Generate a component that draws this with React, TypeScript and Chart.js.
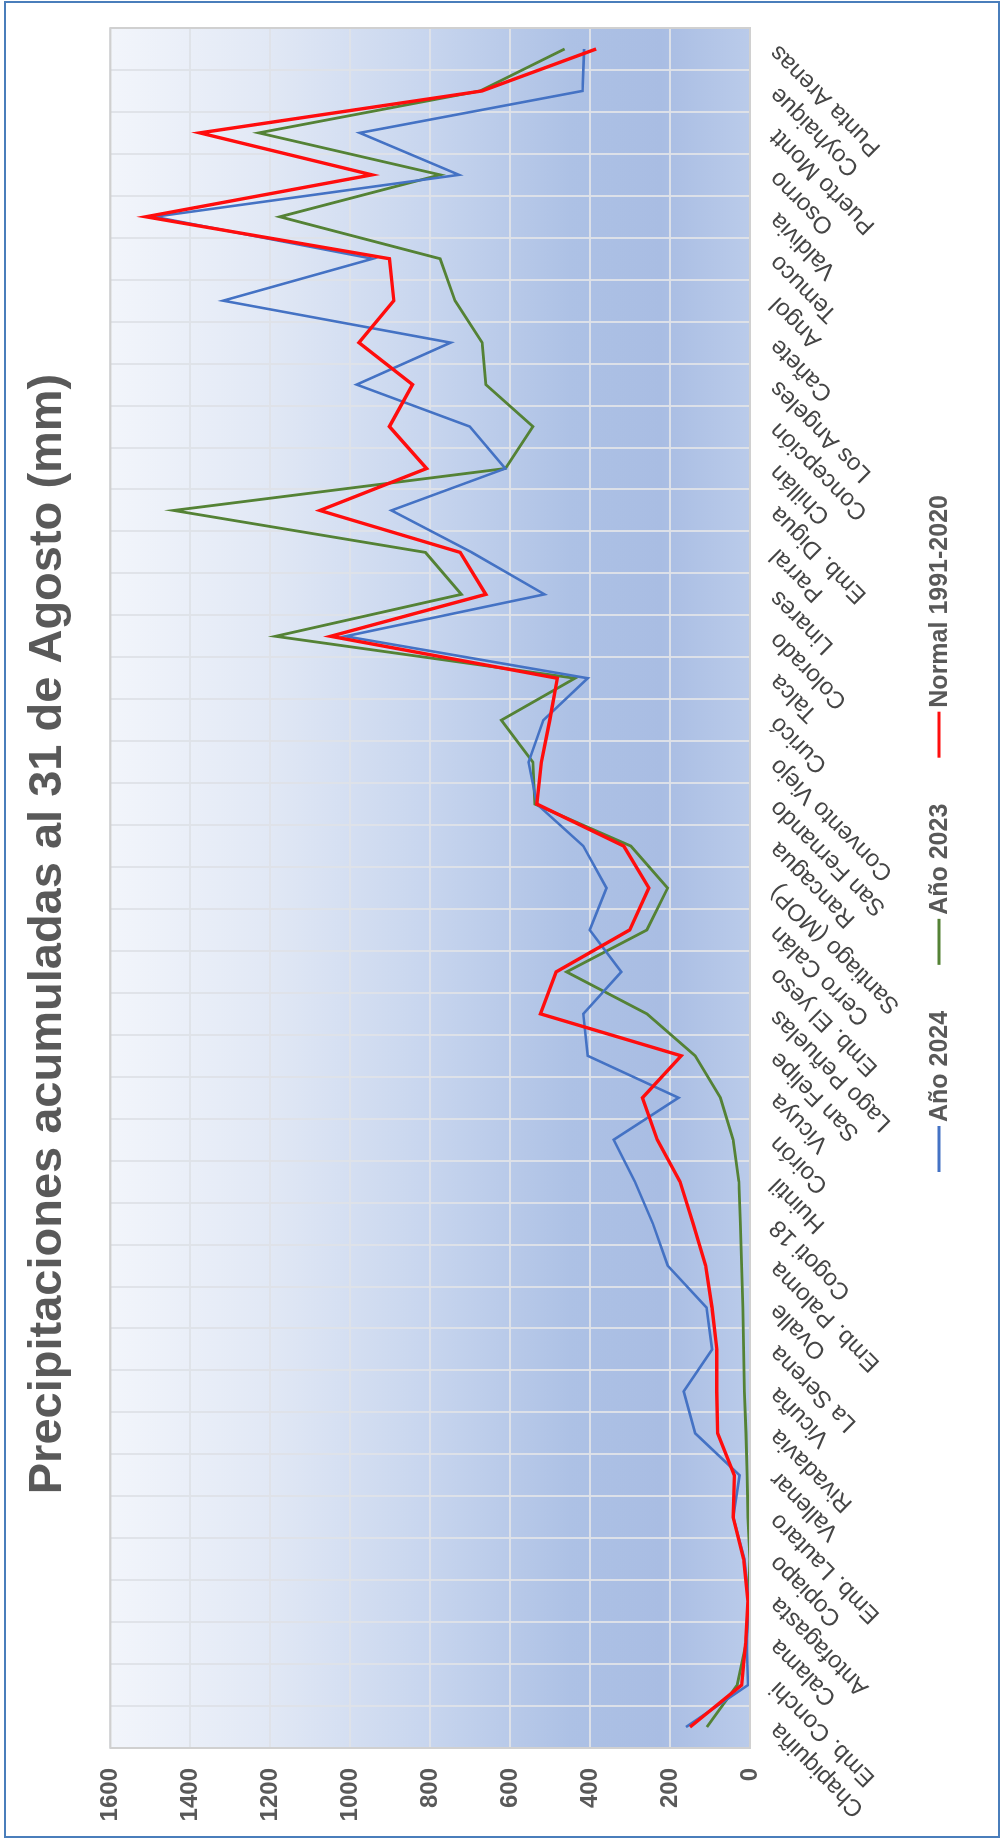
import React, { useEffect, useRef } from 'react';
import { Chart, registerables } from 'chart.js';

Chart.register(...registerables);

const categories = [
  'Chapiquiña', 'Emb. Conchi', 'Calama', 'Antofagasta', 'Copiapo', 'Emb. Lautaro', 'Vallenar',
  'Rivadavia', 'Vicuña', 'La Serena', 'Ovalle', 'Emb. Paloma', 'Cogoti 18', 'Huintil', 'Coirón',
  'Vicuya', 'San Felipe', 'Lago Peñuelas', 'Emb. El yeso', 'Cerro Calán', 'Santiago (MOP)',
  'Rancagua', 'San Fernando', 'Convento Viejo', 'Curicó', 'Talca', 'Colorado', 'Linares', 'Parral',
  'Emb. Digua', 'Chillán', 'Concepción', 'Los Angeles', 'Cañete', 'Angol', 'Temuco', 'Valdivia',
  'Osorno', 'Puerto Montt', 'Coyhaique', 'Punta Arenas',
];

const year2024 = [
  160, 5, 8, 3, 14, 42, 26, 137, 166, 95, 109, 206, 243, 288, 341, 179, 406, 417, 322, 401, 359,
  417, 533, 554, 517, 406, 1012, 514, 696, 897, 612, 701, 984, 749, 1318, 944, 1490, 728, 976, 419, 415,
];

const year2023 = [
  108, 32, 10, 4, 0, 5, 7, 10, 14, 16, 18, 21, 24, 28, 42, 74, 137, 258, 459, 258, 206,
  298, 538, 543, 622, 438, 1187, 722, 812, 1442, 612, 543, 661, 670, 738, 775, 1176, 775, 1229, 675, 464,
];

const normal = [
  150, 21, 11, 5, 16, 42, 39, 81, 83, 83, 95, 111, 142, 175, 232, 269, 172, 524, 485, 301, 253,
  316, 533, 522, 501, 482, 1049, 661, 725, 1076, 809, 902, 844, 978, 891, 902, 1511, 946, 1376, 670, 385,
];

const seriesNames = ['Año 2024', 'Año 2023', 'Normal 1991-2020'];
const seriesColors = ['#4472c4', '#548235', '#ff0d0d'];
const yMin = 0;
const yMax = 1600;
const yStep = 200;
const titleText = 'Precipitaciones acumuladas al 31 de Agosto (mm)';

const W = 1840;
const H = 1003;
const FONT = "'Liberation Sans', Arial, Helvetica, sans-serif";

export default function App() {
  const ref = useRef<HTMLCanvasElement | null>(null);

  useEffect(() => {
    if (!ref.current) return;

    const plotPlugin = {
      id: 'plotDecor',
      beforeDraw(chart: any) {
        const { ctx, chartArea: a } = chart;
        const g = ctx.createLinearGradient(0, a.top, 0, a.bottom);
        g.addColorStop(0, '#f2f5fb');
        g.addColorStop(0.25, '#e1e8f5');
        g.addColorStop(0.5, '#c7d5ee');
        g.addColorStop(0.72, '#adc1e5');
        g.addColorStop(0.86, '#a9bde3');
        g.addColorStop(1, '#bacbea');
        ctx.save();
        ctx.fillStyle = g;
        ctx.fillRect(a.left, a.top, a.right - a.left, a.bottom - a.top);
        ctx.restore();
      },
      afterDraw(chart: any) {
        const { ctx, chartArea: a } = chart;
        ctx.save();
        ctx.strokeStyle = '#d0d0d0';
        ctx.lineWidth = 2;
        ctx.strokeRect(a.left, a.top, a.right - a.left, a.bottom - a.top);

        // legend
        ctx.font = `bold 25px ${FONT}`;
        ctx.textBaseline = 'middle';
        ctx.textAlign = 'left';
        let x = 668;
        const y = 939;
        seriesNames.forEach((name, i) => {
          ctx.strokeStyle = seriesColors[i];
          ctx.lineWidth = 3;
          ctx.beginPath();
          ctx.moveTo(x, y);
          ctx.lineTo(x + 46, y);
          ctx.stroke();
          ctx.fillStyle = '#595959';
          ctx.fillText(name, x + 50, y + 1);
          x += 50 + ctx.measureText(name).width + 46;
        });
        ctx.restore();
      },
    };

    const gridColor = 'rgba(222,226,232,0.95)';

    const chart = new Chart(ref.current, {
      type: 'line',
      data: {
        labels: categories,
        datasets: [
          { label: seriesNames[0], data: year2024, borderColor: seriesColors[0], borderWidth: 2.6, pointRadius: 0, tension: 0, fill: false, order: 2 },
          { label: seriesNames[1], data: year2023, borderColor: seriesColors[1], borderWidth: 2.8, pointRadius: 0, tension: 0, fill: false, order: 3 },
          { label: seriesNames[2], data: normal, borderColor: seriesColors[2], borderWidth: 3.4, pointRadius: 0, tension: 0, fill: false, order: 1 },
        ],
      },
      options: {
        responsive: false,
        animation: false,
        devicePixelRatio: 1,
        layout: { padding: { left: 0, right: 28, top: 0, bottom: 0 } },
        plugins: {
          legend: { display: false },
          tooltip: { enabled: false },
          title: {
            display: true,
            text: titleText,
            color: '#595959',
            font: { family: FONT, size: 47, weight: 'bold' },
            padding: { top: 20, bottom: 34 },
          },
        },
        scales: {
          x: {
            type: 'category',
            offset: true,
            grid: { color: gridColor, lineWidth: 2, offset: true, drawTicks: false },
            border: { display: false },
            ticks: {
              autoSkip: false,
              maxRotation: 45,
              minRotation: 45,
              padding: 14,
              color: '#454545',
              font: { family: FONT, size: 24 },
            },
            afterFit(scale: any) {
              scale.height = 253;
            },
          },
          y: {
            min: yMin,
            max: yMax,
            grid: { color: gridColor, lineWidth: 2, drawTicks: false },
            border: { display: false },
            ticks: {
              stepSize: yStep,
              padding: 20,
              color: '#595959',
              font: { family: FONT, size: 24, weight: 'bold' },
              callback: (v: any) => String(v),
            },
            afterFit(scale: any) {
              scale.width = 92;
            },
          },
        },
      },
      plugins: [plotPlugin],
    } as any);

    return () => chart.destroy();
  }, []);

  return (
    <div style={{ position: 'absolute', left: 0, top: 0, width: 1003, height: 1840, background: '#ffffff', overflow: 'hidden' }}>
      <div
        style={{
          position: 'absolute',
          left: 0,
          top: 0,
          width: W,
          height: H,
          transformOrigin: '0 0',
          transform: `translateY(${W}px) rotate(-90deg)`,
        }}
      >
        <canvas ref={ref} width={W} height={H} style={{ width: W, height: H, display: 'block' }} />
      </div>
      <div
        style={{
          position: 'absolute',
          left: 4,
          top: 1,
          right: 3,
          bottom: 2,
          border: '2px solid #4a7ebb',
          boxSizing: 'border-box',
          pointerEvents: 'none',
        }}
      />
    </div>
  );
}
